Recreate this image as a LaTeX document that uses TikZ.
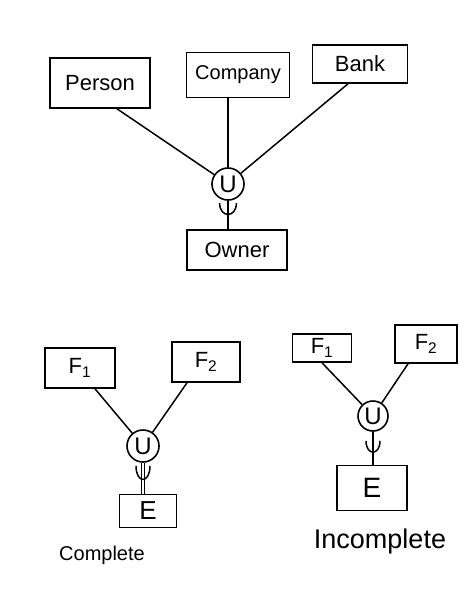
\documentclass[tikz,border=0pt]{standalone}
\usepackage{fontspec}
\setmainfont{Liberation Sans}
\begin{document}
\begin{tikzpicture}[x=1pt,y=-1pt,
  entity/.style={draw, line width=1.6pt, inner sep=0pt, anchor=center, font=\fontsize{22}{24}\selectfont},
  unionc/.style={draw, circle, line width=1.6pt, inner sep=0pt, minimum size=32pt, font=\fontsize{24}{26}\selectfont},
  link/.style={line width=1.5pt},
  dlink/.style={double, line width=1.1pt, double distance=2.6pt},
  caption/.style={font=\fontsize{20}{22}\selectfont},
  subsetmark/.pic={\draw[line width=1.5pt] (-7,-9) .. controls (-7,6) and (7,6) .. (7,-9);}
]
\useasboundingbox (0,0) rectangle (476,608);
\fill[white] (0,0) rectangle (476,608);

% ---- top diagram ----
\node[entity, minimum width=100pt, minimum height=50pt] (person) at (100,83) {Person};
\node[entity, minimum width=103pt, minimum height=45pt, font=\fontsize{20}{22}\selectfont] (company) at (238,75) {Company};
\node[entity, minimum width=95pt, minimum height=38pt] (bank) at (360,64) {Bank};
\node[unionc] (u0) at (228,184) {U};
\node[entity, minimum width=100pt, minimum height=40pt] (owner) at (237,250) {Owner};

\draw[link] ([xshift=17pt]person.south) -- (u0);
\draw[link] ([xshift=-10pt]company.south) -- (u0.north);
\draw[link] ([xshift=-12pt]bank.south) -- (u0);
\draw[link] (u0.south) -- coordinate[pos=0.4] (s0) (u0.south |- owner.north);
\pic[xscale=1.2] at (s0) {subsetmark};

% ---- complete ----
\node[entity, minimum width=70pt, minimum height=40pt] (f1a) at (80,368) {F\textsubscript{1}};
\node[entity, minimum width=68pt, minimum height=40pt] (f2a) at (206,362) {F\textsubscript{2}};
\node[unionc] (u1) at (143,446) {U};
\node[entity, minimum width=57pt, minimum height=33pt, font=\fontsize{26}{28}\selectfont] (ea) at (148,511) {E};
\draw[link] ([xshift=15pt]f1a.south) -- (u1);
\draw[link] ([xshift=-19pt]f2a.south) -- (u1);
\draw[dlink] (u1.south) -- coordinate[pos=0.45] (s1) (u1.south |- ea.north);
\pic[yscale=1.2] at (s1) {subsetmark};
\node[caption] (complete) at (102,555) {Complete};

% ---- incomplete ----
\node[entity, minimum width=59pt, minimum height=28pt] (f1b) at (322,348) {F\textsubscript{1}};
\node[entity, minimum width=62pt, minimum height=38pt] (f2b) at (426,344) {F\textsubscript{2}};
\node[unionc, minimum size=30pt] (u2) at (373,416) {U};
\node[entity, minimum width=70pt, minimum height=45pt, font=\fontsize{28}{30}\selectfont] (eb) at (372,488) {E};
\draw[link] (f1b.south) -- (u2);
\draw[link] ([xshift=-18pt]f2b.south) -- (u2);
\draw[link] (u2.south) -- coordinate[pos=0.55] (s2) (u2.south |- eb.north);
\pic at (s2) {subsetmark};
\node[caption, font=\fontsize{27}{29}\selectfont] (incomplete) at (380,542) {Incomplete};
\end{tikzpicture}
\end{document}
